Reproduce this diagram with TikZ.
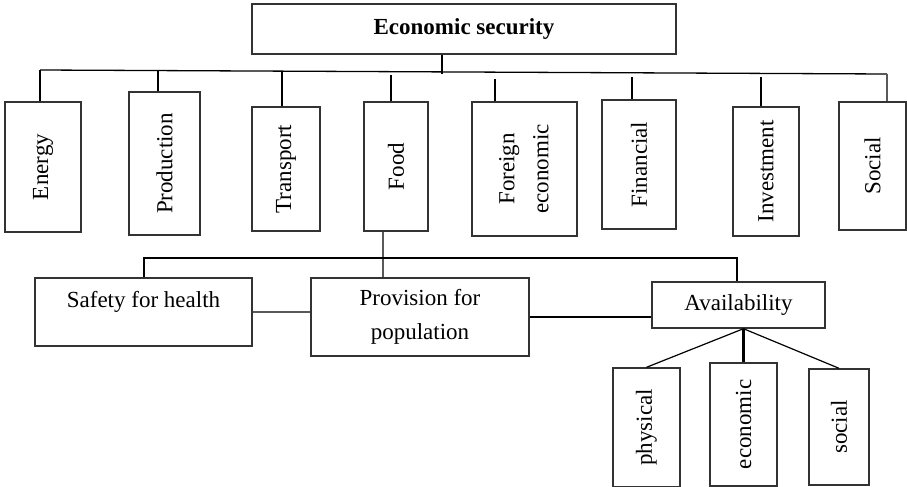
\documentclass[tikz,border=0pt]{standalone}
\usepackage{fontspec}
\setmainfont{Liberation Serif}
\usepackage{graphicx}

\begin{document}
\begin{tikzpicture}[x=0.5pt, y=-0.5pt,
    every node/.style={font=\fontsize{11.5}{17}\selectfont},
    box/.style={draw=black!80, line width=0.7pt, rectangle, inner sep=0pt, align=center},
    stem/.style={line width=1.1pt},
    link/.style={draw=black!65, line width=0.6pt}]
    \useasboundingbox (0,0) rectangle (907,487);

    \node[box, minimum width=212pt, minimum height=25pt] (top) at (464,29) {\textbf{Economic security}};

    % the eight kinds
    \node[box, minimum width=38pt, minimum height=65pt] (energy) at (43,167) {\rotatebox{90}{Energy}};
    \node[box, minimum width=35.5pt, minimum height=71.5pt] (production) at (164.5,163.5) {\rotatebox{90}{Production}};
    \node[box, minimum width=34pt, minimum height=62pt] (transport) at (286,169) {\rotatebox{90}{Transport}};
    \node[box, minimum width=32pt, minimum height=64.5pt] (food) at (396,166.5) {\rotatebox{90}{Food}};
    \node[box, minimum width=52.5pt, minimum height=67pt] (foreign) at (524.5,169) {\rotatebox{90}{\begin{tabular}{@{}c@{}}Foreign\\ economic\end{tabular}}};
    \node[box, minimum width=37pt, minimum height=64.5pt] (financial) at (639,164.5) {\rotatebox{90}{Financial}};
    \node[box, minimum width=33pt, minimum height=64.5pt] (investment) at (766,171.5) {\rotatebox{90}{Investment}};
    \node[box, minimum width=33.5pt, minimum height=64pt] (social) at (872.5,166) {\rotatebox{90}{Social}};

    \coordinate (bl) at (40,70);
    \coordinate (br) at (887,74);
    \coordinate (t) at (442,74);
    \draw[line width=0.65pt] (bl) -- (br);
    \draw[stem] (top.south -| t) -- (t);

    \coordinate (s2) at (158,70);
    \coordinate (s3) at (282,71);
    \coordinate (s4) at (391,75);
    \coordinate (s5) at (495,79);
    \coordinate (s6) at (632,77);
    \coordinate (s7) at (761,77);
    \draw[stem] (bl) -- (bl |- energy.north);
    \draw[stem] (s2) -- (s2 |- production.north);
    \draw[stem] (s3) -- (s3 |- transport.north);
    \draw[stem] (s4) -- (s4 |- food.north);
    \draw[stem] (s5) -- (s5 |- foreign.north);
    \draw[stem] (s6) -- (s6 |- financial.north);
    \draw[stem] (s7) -- (s7 |- investment.north);
    \draw[link] (br) -- (br |- social.north);

    % food security
    \node[box, minimum width=108.5pt, minimum height=34pt, text height=8pt, text depth=13pt] (safety) at (143.5,312) {Safety for health};
    \node[box, minimum width=109pt, minimum height=39pt] (provision) at (420,317) {Provision for\\ population};
    \node[box, minimum width=86.5pt, minimum height=23pt] (availability) at (738.5,305) {Availability};

    \node[box, minimum width=33.5pt, minimum height=59.5pt] (physical) at (646.5,427.5) {\rotatebox{90}{physical}};
    \node[box, minimum width=33.5pt, minimum height=61.5pt] (economic) at (743.5,424.5) {\rotatebox{90}{economic}};
    \node[box, minimum width=30pt, minimum height=58pt] (socialav) at (839,427) {\rotatebox{90}{social}};

    \coordinate (f) at (383,0);
    \coordinate (ll) at (144,258);
    \coordinate (lr) at (737,258);
    \draw[link] (food.south -| f) -- (provision.north -| f);
    \draw[stem] (safety.north -| ll) -- (ll) -- (lr) -- (availability.north -| lr);
    \draw[link] (safety.east) -- (provision.west |- safety.east);
    \draw[stem] (provision.east) -- (availability.west |- provision.east);

    \coordinate (a) at (availability.south -| economic.north);
    \draw[link, draw=black] (a) -- (physical.north);
    \draw[stem] (a) -- (economic.north);
    \draw[link, draw=black] (a) -- (socialav.north);
\end{tikzpicture}
\end{document}
